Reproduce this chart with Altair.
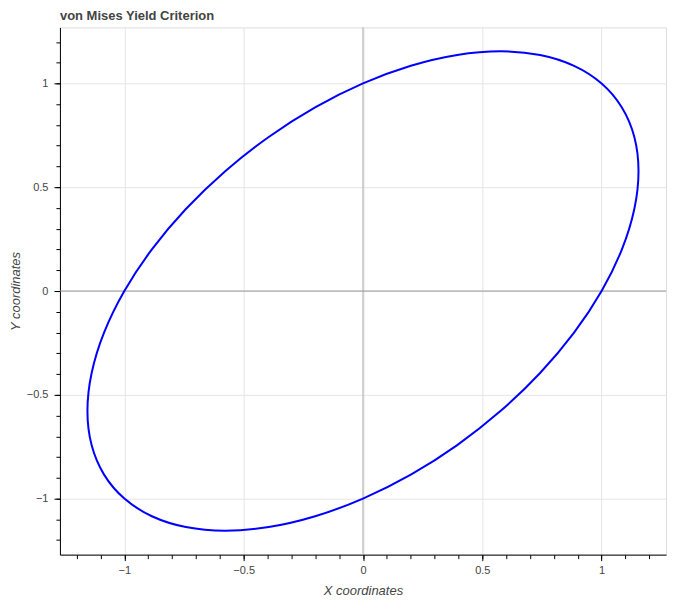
import altair as alt
import pandas as pd

# points on the von Mises ellipse (x: sigma1, y: sigma2)
xs = [1.0, 0.8846, 0.7422, 0.5773, 0.3949, 0.2005, 0.0, -0.2006, -0.3950, -0.5774,
      -0.7422, -0.8846, -1.0, -1.0851, -1.1371, -1.1547, -1.1372, -1.0850,
      -1.0, -0.8846, -0.7422, -0.5773, -0.3949, -0.2005, 0.0, 0.2006, 0.3950, 0.5774,
      0.7422, 0.8846, 1.0, 1.0851, 1.1371, 1.1547, 1.1372, 1.0850]
ys = [1.0, 1.0850, 1.1372, 1.1547, 1.1371, 1.0851, 1.0, 0.8846, 0.7422, 0.5774,
      0.3950, 0.2006, 0.0, -0.2005, -0.3949, -0.5773, -0.7422, -0.8846,
      -1.0, -1.0850, -1.1372, -1.1547, -1.1371, -1.0851, -1.0, -0.8846, -0.7422, -0.5774,
      -0.3950, -0.2006, 0.0, 0.2005, 0.3949, 0.5773, 0.7422, 0.8846]
major_ticks = [-1.0, -0.5, 0.0, 0.5, 1.0]
minor_ticks = [-1.2, -1.1, -1.0, -0.9, -0.8, -0.7, -0.6, -0.5, -0.4, -0.3, -0.2, -0.1, 0.0,
               0.1, 0.2, 0.3, 0.4, 0.5, 0.6, 0.7, 0.8, 0.9, 1.0, 1.1, 1.2]
span_x = [0.0]
span_y = [0.0]
x_domain = [-1.27, 1.27]
y_domain = [-1.27, 1.27]

df = pd.DataFrame({"x": xs, "y": ys, "i": list(range(len(xs)))})

FONT = "Liberation Sans"
TXT = "#444444"

xscale = alt.Scale(domain=x_domain, nice=False, zero=False)
yscale = alt.Scale(domain=y_domain, nice=False, zero=False)

x_major = alt.Axis(values=major_ticks, title="X coordinates", orient="bottom",
                   grid=True, gridColor="#e5e5e5", domainColor="black", tickColor="black",
                   tickSize=6, labelPadding=4, labelFont=FONT, labelFontSize=11,
                   labelColor=TXT, titleFont=FONT, titleFontSize=13, titleFontStyle="italic",
                   titleFontWeight="normal", titleColor=TXT, titlePadding=9, format="~g")
y_major = alt.Axis(values=major_ticks, title="Y coordinates", orient="left",
                   grid=True, gridColor="#e5e5e5", domainColor="black", tickColor="black",
                   tickSize=6, labelPadding=6, labelFont=FONT, labelFontSize=11,
                   labelColor=TXT, titleFont=FONT, titleFontSize=13, titleFontStyle="italic",
                   titleFontWeight="normal", titleColor=TXT, titlePadding=4, format="~g")
x_minor = alt.Axis(values=minor_ticks, title=None, orient="bottom", labels=False,
                   grid=False, domain=False, tickColor="black", tickSize=4)
y_minor = alt.Axis(values=minor_ticks, title=None, orient="left", labels=False,
                   grid=False, domain=False, tickColor="black", tickSize=4)

base = alt.Chart(df)

minor = base.mark_point(opacity=0).encode(
    x=alt.X("x:Q", scale=xscale, axis=x_minor),
    y=alt.Y("y:Q", scale=yscale, axis=y_minor),
)

vrule = alt.Chart(pd.DataFrame({"x": span_x})).mark_rule(color="#aaaaaa", strokeWidth=1).encode(
    x=alt.X("x:Q", scale=xscale, axis=x_major)
)
hrule = alt.Chart(pd.DataFrame({"y": span_y})).mark_rule(color="#999999", strokeWidth=1).encode(
    y=alt.Y("y:Q", scale=yscale, axis=y_major)
)

ellipse = base.mark_line(color="#0000ff", strokeWidth=2, interpolate="cardinal-closed").encode(
    x=alt.X("x:Q", scale=xscale, axis=x_major),
    y=alt.Y("y:Q", scale=yscale, axis=y_major),
    order=alt.Order("i:Q"),
)

main = alt.layer(vrule, hrule, ellipse)

chart = alt.layer(minor, main).resolve_axis(x="independent", y="independent").properties(
    width=607,
    height=528,
    title=alt.TitleParams("von Mises Yield Criterion", anchor="start", frame="group",
                          font=FONT, fontSize=13, fontWeight="bold", color=TXT, offset=4),
    autosize=alt.AutoSizeParams(type="none"),
    padding={"left": 52, "top": 19, "right": 22, "bottom": 45},
).configure_view(stroke="#e5e5e5", strokeWidth=1).configure(background="white")

chart.save("out.html", embed_options={"renderer": "svg", "actions": False})
